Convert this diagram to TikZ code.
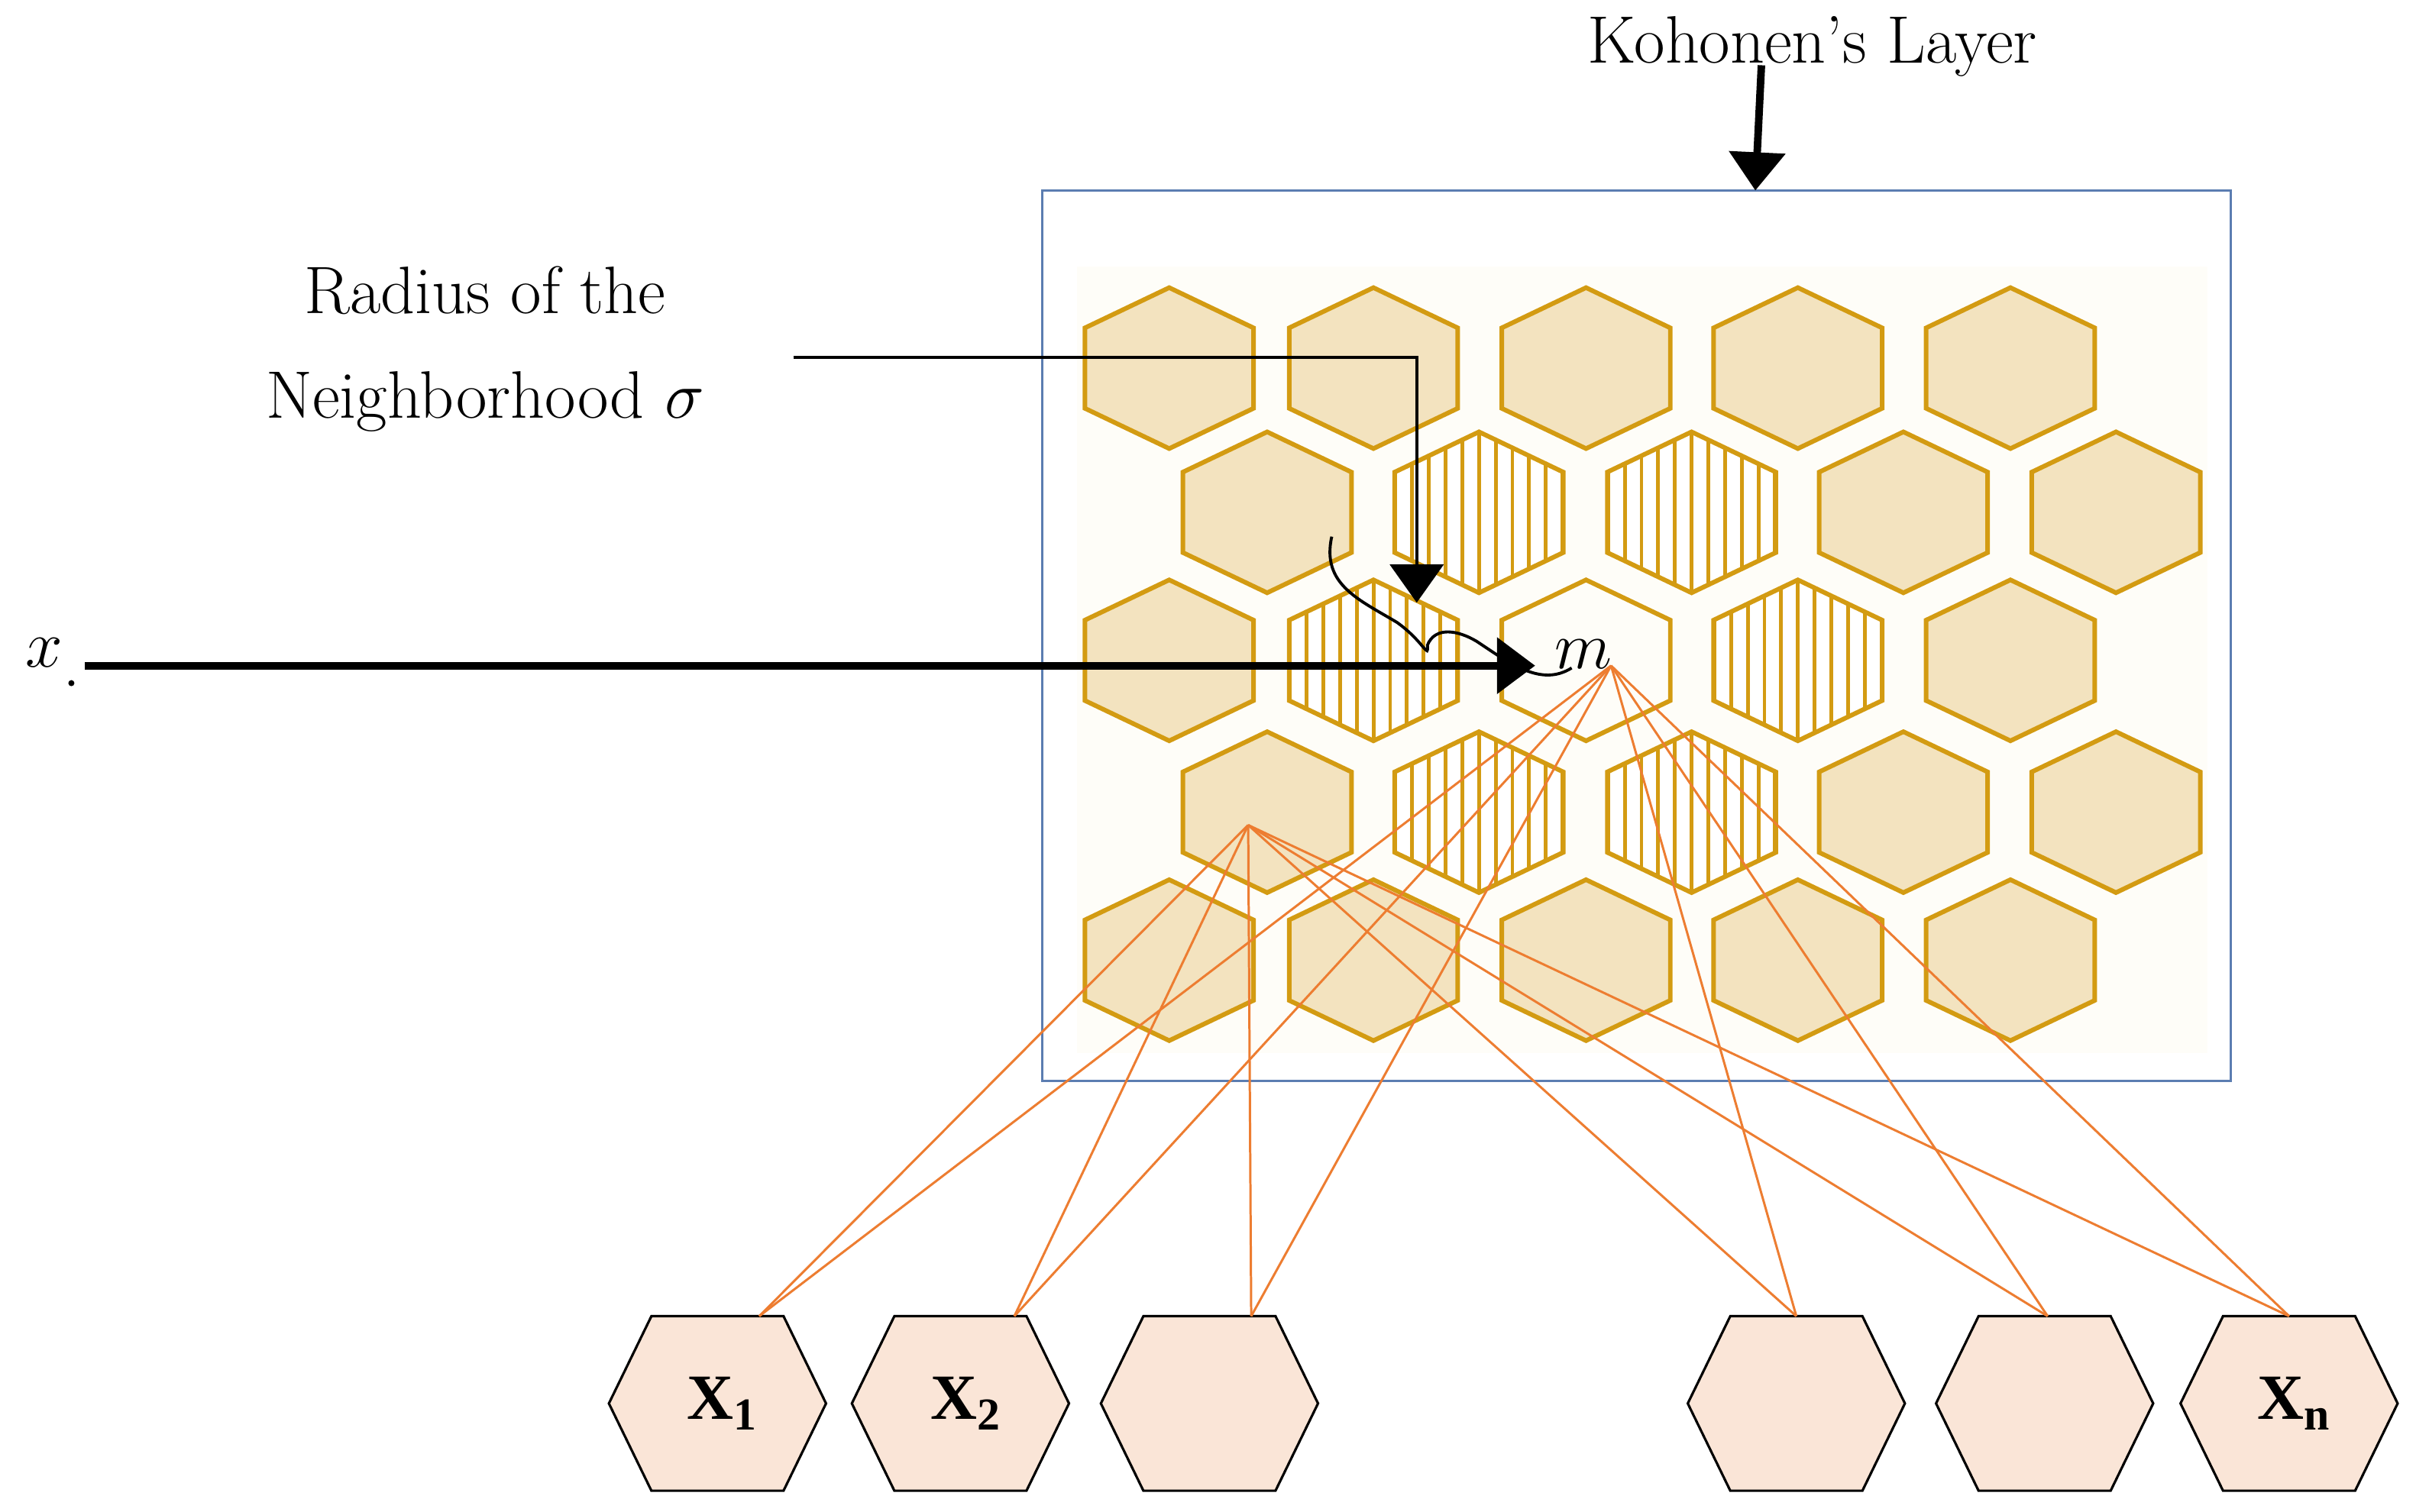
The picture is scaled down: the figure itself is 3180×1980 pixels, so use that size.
\documentclass[tikz,border=0pt]{standalone}
\usepackage{fontspec}
\newfontfamily\tnr{Liberation Serif}
\usetikzlibrary{arrows.meta}
\definecolor{hexfill}{HTML}{F3E3BF}
\definecolor{hexline}{HTML}{D39B12}
\definecolor{bgc}{HTML}{FEFDF8}
\definecolor{boxc}{HTML}{5B7DB1}
\definecolor{inhex}{HTML}{FAE5D7}
\definecolor{orng}{HTML}{ED7D31}
\newcommand\khexpath[1]{(#1)+(0,-106) -- +(111,-53) -- +(111,53) -- +(0,106) -- +(-111,53) -- +(-111,-53) -- cycle}
\newcommand\khex[1]{\path[hexfull] \khexpath{#1};}
\newcommand\khatch[1]{%
 \path[fill=white] \khexpath{#1};
 \begin{scope}\clip \khexpath{#1};
 \foreach \i in {-5,...,5}{\draw[hexline,line width=1.4pt] (#1) ++(\i*22,-120) -- ++(0,240);}
 \end{scope}
 \draw[hexline,line width=1.7pt] \khexpath{#1};}
\newcommand\khwhite[1]{\path[draw=hexline,line width=1.7pt,fill=bgc] \khexpath{#1};}
\newcommand\inhexa[2]{\path[fill=inhex,draw=black,line width=0.9pt] (#1)+(-87,-115) -- +(87,-115) -- +(143,0) -- +(87,115) -- +(-87,115) -- +(-143,0) -- cycle;
 \node[font=\tnr\bfseries\fontsize{24}{24}\selectfont] at ([xshift=2pt]#1) {#2};}
\begin{document}
\begin{tikzpicture}[x=0.01cm,y=-0.01cm,
 hexfull/.style={fill=hexfill,draw=hexline,line width=1.7pt},
 bigarrow/.style={line width=2.8pt,-{Triangle[length=0.5cm,width=0.72cm]}},
 thin/.style={line width=1.1pt},
 wire/.style={orng,line width=0.85pt}]
\useasboundingbox (0,0) rectangle (3180,1980);
\fill[white] (0,0) rectangle (3180,1980);
\begin{scope}[scale=0.994]
\draw[boxc,line width=0.8pt] (1373,251) rectangle (2938,1424);
\fill[bgc] (1418,351) rectangle (2907,1387);
\foreach \x in {1540,1809,2089,2368,2648}{\coordinate (t) at (\x,485); \khex{t}}
\foreach \x in {1669,2507,2787}{\coordinate (t) at (\x,675); \khex{t}}
\foreach \x in {1948,2228}{\coordinate (t) at (\x,675); \khatch{t}}
\foreach \x in {1540,2648}{\coordinate (t) at (\x,870); \khex{t}}
\foreach \x in {1809,2368}{\coordinate (t) at (\x,870); \khatch{t}}
\coordinate (w) at (2089,870); \khwhite{w}
\foreach \x in {1669,2507,2787}{\coordinate (t) at (\x,1070); \khex{t}}
\foreach \x in {1948,2228}{\coordinate (t) at (\x,1070); \khatch{t}}
\foreach \x in {1540,1809,2089,2368,2648}{\coordinate (t) at (\x,1265); \khex{t}}
\coordinate (h1) at (945,1849); \inhexa{h1}{X\textsubscript{\fontsize{17}{17}\selectfont 1}}
\coordinate (h2) at (1265,1849); \inhexa{h2}{X\textsubscript{\fontsize{17}{17}\selectfont 2}}
\coordinate (h3) at (1593,1849); \inhexa{h3}{}
\coordinate (h4) at (2366,1849); \inhexa{h4}{}
\coordinate (h5) at (2693,1849); \inhexa{h5}{}
\coordinate (h6) at (3015,1849); \inhexa{h6}{X\textsubscript{\fontsize{17}{17}\selectfont n}}
\coordinate (t1) at (1000,1734); \coordinate (t2) at (1336,1734);
\coordinate (t3) at (1648,1734); \coordinate (t4) at (2366,1734);
\coordinate (t5) at (2697,1734); \coordinate (t6) at (3015,1734);
\coordinate (m) at (2122,877);
\coordinate (p) at (1644,1087);
\foreach \t in {t1,t2,t3,t4,t5,t6}{\draw[wire] (m) -- (\t); \draw[wire] (p) -- (\t);}
\node[font=\fontsize{25}{25}\selectfont] (kl) at (2387,61) {Kohonen's Layer};
\coordinate (ka) at (2320,86);
\coordinate (kb) at (2312,251);
\draw[bigarrow] (ka) -- (kb);
\node[font=\fontsize{25}{39}\selectfont,align=center] (rad) at (639,460) {Radius of the\\Neighborhood $\sigma$};
\coordinate (r1) at (1045,471); \coordinate (r2) at (1866,471); \coordinate (r3) at (1866,794);
\draw[thin,-{Triangle[length=0.5cm,width=0.7cm]}] (r1) -- (r2) -- (r3);
\node[font=\fontsize{33}{33}\selectfont] (xl) at (58,860) {$x$};
\fill (94,900) circle (4);
\coordinate (x1) at (112,877); \coordinate (x2) at (2022,877);
\draw[bigarrow] (x1) -- (x2);
\node[font=\fontsize{33}{33}\selectfont] (ml) at (2085,862) {$m$};
\draw[thin] (1754,707) .. controls (1740,770) and (1790,790) .. (1840,820)
 .. controls (1875,845) and (1882,870) .. (1880,850)
 .. controls (1890,825) and (1920,830) .. (1945,845)
 .. controls (1990,875) and (2030,905) .. (2070,880);
\end{scope}
\end{tikzpicture}
\end{document}
